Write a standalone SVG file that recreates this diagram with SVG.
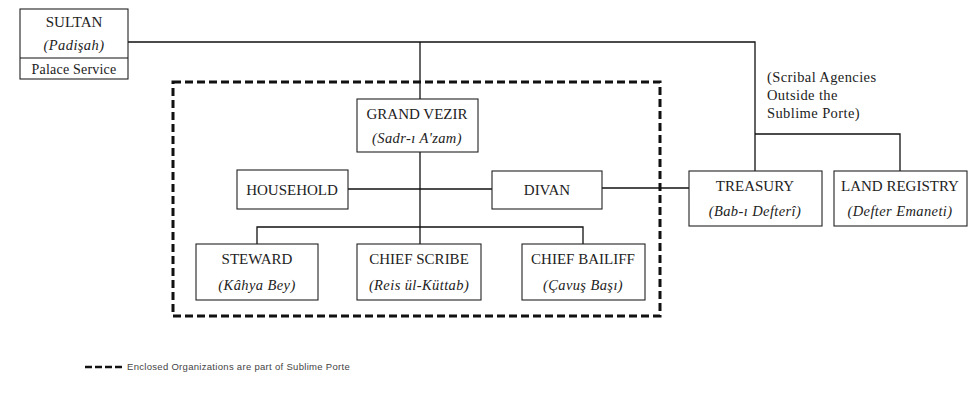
<svg xmlns="http://www.w3.org/2000/svg" width="971" height="396" viewBox="0 0 971 396">
<style>
.box{fill:#fff;stroke:#222;stroke-width:1.1}
.ln{fill:none;stroke:#111;stroke-width:1.3}
.t{font-family:"Liberation Serif","Times New Roman",serif;font-size:15px;fill:#222;text-anchor:middle}
.i{font-family:"Liberation Serif","Times New Roman",serif;font-size:14.5px;font-style:italic;fill:#222;text-anchor:middle;letter-spacing:0.4px}
.n{font-family:"Liberation Serif","Times New Roman",serif;font-size:14.5px;fill:#222;letter-spacing:0.4px}
.enc{fill:none;stroke:#111;stroke-width:3;stroke-dasharray:8,4}
.leg{font-family:"Liberation Sans",Arial,sans-serif;font-size:9.5px;fill:#444;letter-spacing:0.3px}
</style>
<rect width="971" height="396" fill="#fff"/>
<g id="connectors">
<path class="ln" d="M128,42 H755 V171"/>
<path class="ln" d="M755,134 H900 V171"/>
<path class="ln" d="M420,42 V99"/>
<path class="ln" d="M420,152 V244"/>
<path class="ln" d="M348,189 H492"/>
<path class="ln" d="M602,188 H689"/>
<path class="ln" d="M257,244 V227 H583 V244"/>
</g>
<g id="enclosure">
<rect class="enc" x="173" y="82" width="487" height="234"/>
</g>
<g id="sultan">
<rect class="box" x="20" y="9" width="108" height="70"/>
<line class="ln" x1="20" y1="58" x2="128" y2="58" style="stroke-width:1.1"/>
<text class="t" x="74" y="27">SULTAN</text>
<text class="i" x="74" y="50">(Padişah)</text>
<text class="n" x="74" y="74" style="text-anchor:middle;font-size:14px;letter-spacing:0.2px">Palace Service</text>
</g>
<g id="grand-vezir">
<rect class="box" x="357" y="99" width="121" height="53"/>
<text class="t" x="417" y="119">GRAND VEZIR</text>
<text class="i" x="417" y="143">(Sadr-ı A'zam)</text>
</g>
<g id="household">
<rect class="box" x="237" y="170" width="111" height="39"/>
<text class="t" x="292" y="195">HOUSEHOLD</text>
</g>
<g id="divan">
<rect class="box" x="492" y="171" width="110" height="38"/>
<text class="t" x="547" y="195">DIVAN</text>
</g>
<g id="steward">
<rect class="box" x="196" y="244" width="122" height="56"/>
<text class="t" x="257" y="264">STEWARD</text>
<text class="i" x="257" y="290">(Kâhya Bey)</text>
</g>
<g id="chief-scribe">
<rect class="box" x="357" y="244" width="124" height="56"/>
<text class="t" x="419" y="264">CHIEF SCRIBE</text>
<text class="i" x="419" y="290">(Reis ül-Küttab)</text>
</g>
<g id="chief-bailiff">
<rect class="box" x="522" y="244" width="123" height="56"/>
<text class="t" x="583" y="264">CHIEF BAILIFF</text>
<text class="i" x="583" y="290">(Çavuş Başı)</text>
</g>
<g id="treasury">
<rect class="box" x="689" y="171" width="133" height="55"/>
<text class="t" x="755" y="191">TREASURY</text>
<text class="i" x="755" y="216">(Bab-ı Defterî)</text>
</g>
<g id="land-registry">
<rect class="box" x="834" y="171" width="133" height="55"/>
<text class="t" x="900" y="191">LAND REGISTRY</text>
<text class="i" x="900" y="216">(Defter Emaneti)</text>
</g>
<g id="scribal-note">
<text class="n" x="767" y="82">(Scribal Agencies</text>
<text class="n" x="767" y="100">Outside the</text>
<text class="n" x="767" y="118">Sublime Porte)</text>
</g>
<g id="legend">
<line class="enc" x1="85" y1="367" x2="122" y2="367" style="stroke-width:2.5;stroke-dasharray:7,3"/>
<text class="leg" x="127" y="370">Enclosed Organizations are part of Sublime Porte</text>
</g>
</svg>
